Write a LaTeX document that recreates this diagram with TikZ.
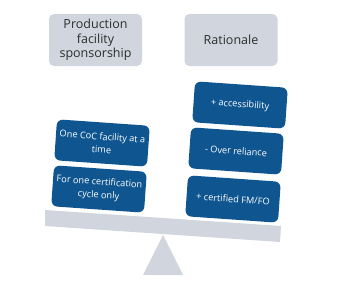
\documentclass[tikz,border=0pt]{standalone}
\usepackage{fontspec}
\setmainfont{Open Sans}
\definecolor{hdrgrey}{RGB}{208,213,222}
\definecolor{boxblue}{RGB}{15,86,145}
\definecolor{txtdark}{RGB}{45,45,45}
\begin{document}
\begin{tikzpicture}[x=1pt,y=1pt,
  header/.style={fill=hdrgrey, rounded corners=5pt, minimum width=93pt, minimum height=52pt,
    align=center, text=txtdark, font=\fontsize{12.5}{14.5}\selectfont, inner sep=0pt},
  bluebox/.style={fill=boxblue, rounded corners=6pt, minimum width=93pt, minimum height=41pt,
    align=center, text=white, font=\fontsize{9.2}{13}\selectfont, inner sep=0pt, rotate=-4}]
\useasboundingbox (0,0) rectangle (350,-284);
\node[header] (h1) at (95.5,-40) {Production\\facility\\sponsorship};
\node[header] (h2) at (231,-40) {Rationale};
% beam and fulcrum
\fill[hdrgrey] (45,-210) -- (281,-226) -- (280,-242) -- (45,-226) -- cycle;
\fill[hdrgrey] (163,-235) -- (183,-275) -- (143,-275) -- cycle;
% left boxes
\node[bluebox] (l1) at (102,-143) {One CoC facility at a\\time};
\node[bluebox] (l2) at (99,-189) {For one certification\\cycle only};
% right boxes
\node[bluebox] (r1) at (240,-105) {+ accessibility};
\node[bluebox] (r2) at (236,-151) {- Over reliance};
\node[bluebox] (r3) at (233,-199) {+ certified FM/FO};
\end{tikzpicture}
\end{document}
